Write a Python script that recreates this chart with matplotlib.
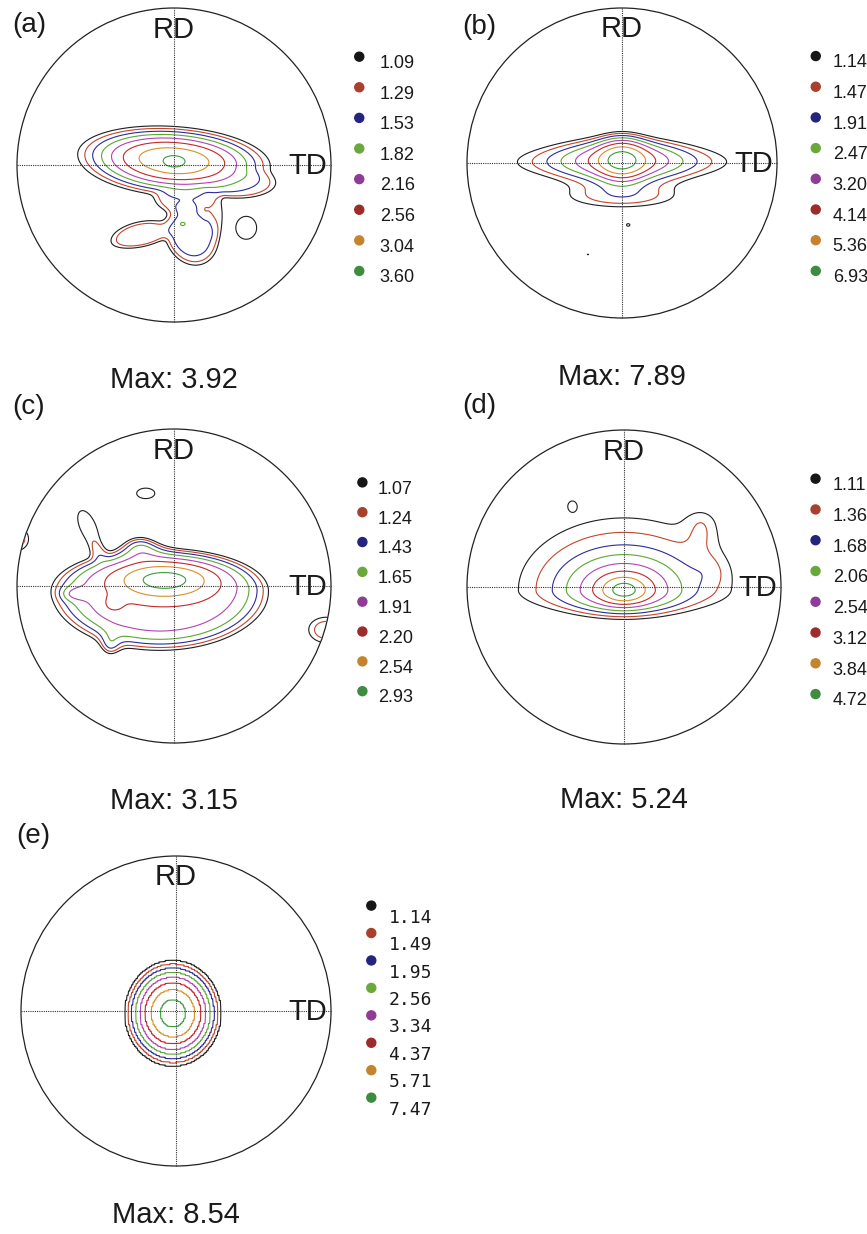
import numpy as np
import matplotlib.pyplot as plt

# contour levels listed in each legend
levels_a = [1.09, 1.29, 1.53, 1.82, 2.16, 2.56, 3.04, 3.60]
levels_b = [1.14, 1.47, 1.91, 2.47, 3.20, 4.14, 5.36, 6.93]
levels_c = [1.07, 1.24, 1.43, 1.65, 1.91, 2.20, 2.54, 2.93]
levels_d = [1.11, 1.36, 1.68, 2.06, 2.54, 3.12, 3.84, 4.72]
levels_e = [1.14, 1.49, 1.95, 2.56, 3.34, 4.37, 5.71, 7.47]
max_values = [3.92, 7.89, 3.15, 5.24, 8.54]
panel_names = ['(a)', '(b)', '(c)', '(d)', '(e)']

# intensity lobes (unit circle, TD right, RD up)
# x0, y0, width, height above, height below, peak, flatness, tilt (deg)
lobes_a = [
    (0.00, 0.03, 0.40, 0.14, 0.15, 3.55, 1, -4),
    (0.00, 0.02, 0.083, 0.05, 0.05, 2.97, 1, 0),
    (0.06, -0.22, 0.20, 0.10, 0.10, 1.45, 2, 0),
    (0.11, -0.44, 0.17, 0.21, 0.21, 1.70, 2, 24),
    (0.055, -0.375, 0.03, 0.02, 0.02, 1.50, 1, 0),
    (-0.21, -0.45, 0.22, 0.10, 0.08, 1.48, 2, 12),
    (0.26, -0.32, 0.07, 0.18, 0.18, 1.20, 2, 0),
    (0.42, -0.12, 0.25, 0.10, 0.10, 1.45, 2, 0),
    (0.46, -0.40, 0.10, 0.11, 0.11, 1.20, 2, 0),
]
lobes_b = [
    (0.00, 0.02, 0.10, 0.093, 0.09, 3.50, 1, 0),
    (0.00, 0.02, 0.25, 0.093, 0.09, 2.60, 1, 0),
    (0.00, 0.02, 0.55, 0.093, 0.09, 1.80, 1, 0),
    (0.00, -0.22, 0.34, 0.07, 0.07, 1.65, 1, 0),
    (0.00, -0.03, 0.64, 0.08, 0.08, 0.45, 1, 0),
    (0.04, -0.40, 0.02, 0.015, 0.015, 1.25, 1, 0),
    (-0.22, -0.59, 0.012, 0.008, 0.008, 1.20, 1, 0),
]
lobes_c = [
    (-0.09, -0.03, 0.65, 0.254, 0.358, 2.10, 2.5, 0),
    (-0.06, 0.04, 0.20, 0.07, 0.08, 1.05, 1, 0),
    (-0.64, -0.05, 0.06, 0.03, 0.03, 0.35, 1, 0),
    (-0.39, -0.12, 0.05, 0.04, 0.04, 0.20, 1, 0),
    (-0.55, 0.38, 0.075, 0.16, 0.16, 1.18, 2, 24),
    (-0.22, 0.28, 0.10, 0.06, 0.06, 0.95, 1, 0),
    (-0.41, -0.40, 0.05, 0.06, 0.06, 0.60, 1, 0),
    (-0.18, 0.59, 0.13, 0.075, 0.075, 1.18, 1, 0),
    (-1.00, 0.30, 0.10, 0.10, 0.10, 1.40, 1, 0),
    (0.97, -0.28, 0.15, 0.11, 0.11, 1.40, 1, 0),
]
lobes_d = [
    (0.00, -0.02, 0.09, 0.055, 0.055, 1.60, 1, 0),
    (0.00, -0.02, 0.22, 0.13, 0.10, 1.60, 1, 0),
    (0.00, -0.02, 0.40, 0.25, 0.12, 0.75, 1, 0),
    (0.00, -0.02, 0.80, 0.60, 0.15, 1.30, 1, 0),
    (0.50, 0.40, 0.08, 0.08, 0.12, 0.45, 1, 0),
    (0.55, 0.10, 0.08, 0.08, 0.08, 0.25, 1, 0),
    (-0.33, 0.52, 0.03, 0.035, 0.035, 0.42, 1, 0),
]
lobes_e = [
    (-0.02, -0.015, 0.155, 0.17, 0.17, 8.54, 1, 0),
]

all_levels = [levels_a, levels_b, levels_c, levels_d, levels_e]
all_lobes = [lobes_a, lobes_b, lobes_c, lobes_d, lobes_e]
# how lobes combine: 1 = plain sum, larger = closer to taking the highest
blend = [4, 1, 1, 1, 1]

line_colors = ['#1e1e1e', '#c4452c', '#2c2c9c', '#5aa832',
               '#b044b4', '#c42828', '#d8902a', '#3a9e3a']
dot_colors = ['#161616', '#a8402c', '#24247e', '#6aa83c',
              '#8e3c96', '#9c2c2c', '#c4842e', '#3e8c40']

# where each pole figure sits on the page (pixels)
centers = [(174, 165), (622, 163), (174, 586), (624, 587), (176, 1011)]
radii = [157, 155, 157, 157, 155]
name_y = [0.89, 0.88, 1.14, 1.15, 1.13]
max_y = [-1.42, -1.43, -1.42, -1.41, -1.37]
legend_x = [1.18, 1.25, 1.20, 1.22, 1.26]
legend_y0 = [0.69, 0.69, 0.66, 0.69, 0.68]
legend_step = [0.195, 0.198, 0.19, 0.196, 0.177]
legend_tx = [1.31, 1.36, 1.30, 1.33, 1.37]

W, H = 867, 1234
narrow = ['Liberation Sans Narrow', 'Liberation Sans', 'DejaVu Sans']
regular = ['Liberation Sans', 'DejaVu Sans']
ink = '#1a1a1a'


def density(lobes, X, Y, k=1):
    F = np.zeros_like(X)
    for x0, y0, sx, syu, syd, amp, p, tilt in lobes:
        t = np.radians(tilt)
        u = (X - x0) * np.cos(t) + (Y - y0) * np.sin(t)
        v = -(X - x0) * np.sin(t) + (Y - y0) * np.cos(t)
        sy = np.where(v >= 0, syu, syd)
        q = (u / sx) ** 2 + (v / sy) ** 2
        F += (amp * np.exp(-0.5 * q ** p)) ** k
    return F ** (1.0 / k)


fig = plt.figure(figsize=(W / 100, H / 100), dpi=100)

g = np.linspace(-1, 1, 606)
X, Y = np.meshgrid(g, g)
outside = X ** 2 + Y ** 2 > 1

# coarser raster for (e), whose contours were traced on pixels
gc = (np.arange(202) + 0.5) / 202 * 2 - 1
Xc, Yc = np.meshgrid(gc, gc)

for i in range(5):
    cx, cy = centers[i]
    r = radii[i]
    pad = 1.02
    ax = fig.add_axes([(cx - pad * r) / W, 1 - (cy + pad * r) / H,
                       2 * pad * r / W, 2 * pad * r / H])
    ax.set_xlim(-pad, pad)
    ax.set_ylim(-pad, pad)
    ax.axis('off')

    if i == 4:
        Fc = density(all_lobes[i], Xc, Yc, blend[i])
        F = np.repeat(np.repeat(Fc, 3, axis=0), 3, axis=1)
    else:
        F = density(all_lobes[i], X, Y, blend[i])
    F[outside] = np.nan
    ax.contour(X, Y, F, levels=all_levels[i], colors=line_colors,
               linewidths=0.8)

    ax.add_patch(plt.Circle((0, 0), 1, fill=False, lw=0.9, color='#222222'))
    ax.plot([-1, 1], [0, 0], ls=(0, (1, 1)), lw=0.8, color='#333333')
    ax.plot([0, 0], [-1, 1], ls=(0, (1, 1)), lw=0.8, color='#333333')

    ax.text(0, 0.81, 'RD', fontsize=21, family=narrow, color=ink,
            ha='center', va='baseline')
    ax.text(0.85, -0.06, 'TD', fontsize=21, family=narrow, color=ink,
            ha='center', va='baseline', clip_on=False)
    ax.text(-1.03, name_y[i], panel_names[i], fontsize=20, family=regular,
            color=ink, ha='left', va='center', clip_on=False)
    ax.text(0, max_y[i], f'Max: {max_values[i]:.2f}', fontsize=21,
            family=regular, color=ink, ha='center', va='baseline',
            clip_on=False)

    ys = [legend_y0[i] - k * legend_step[i] for k in range(8)]
    ax.scatter([legend_x[i]] * 8, ys, s=42, c=dot_colors, clip_on=False,
               zorder=3)
    for k, v in enumerate(all_levels[i]):
        if i == 4:
            ax.text(legend_tx[i], ys[k] - 0.11, f'{v:.2f}', fontsize=13,
                    family='DejaVu Sans Mono', color=ink, ha='left',
                    va='baseline', clip_on=False)
        else:
            ax.text(legend_tx[i], ys[k] - 0.072, f'{v:.2f}', fontsize=13,
                    family=narrow, color=ink, ha='left', va='baseline',
                    clip_on=False)

fig.savefig('out.png', dpi=100)
